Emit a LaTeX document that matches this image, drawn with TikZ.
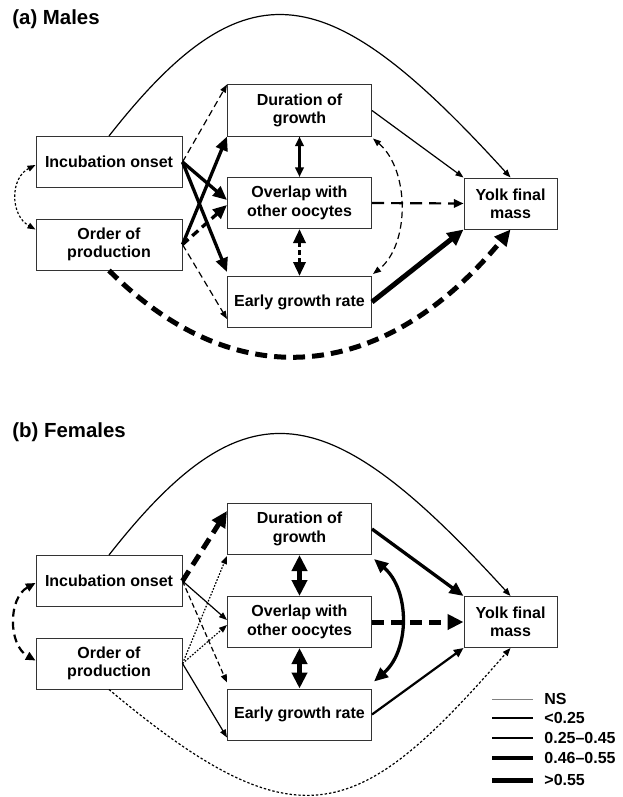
\documentclass[tikz,border=0pt]{standalone}
\usepackage{fontspec}
\setmainfont{Liberation Sans}
\usepackage{tikz}
\usetikzlibrary{calc,arrows.meta}

\begin{document}
\begin{tikzpicture}[
    x=0.5pt, y=-0.5pt,
    box/.style={rectangle, draw=black!80, line width=0.5pt, minimum height=25.5pt,
                inner sep=0pt, align=center, font=\fontsize{8}{9.2}\selectfont\bfseries},
    side/.style={box, minimum width=73pt},
    mid/.style={box, minimum width=72pt},
    yolk/.style={box, minimum width=46.5pt},
    panel_title/.style={anchor=base west, inner sep=0pt, font=\fontsize{10.2}{12}\selectfont\bfseries},
    legend_font/.style={anchor=west, inner sep=0pt, font=\fontsize{8}{9.2}\selectfont\bfseries},
    ns/.style={line width=0.5pt, color=black!50},
    wa/.style={line width=0.6pt, >={Triangle[length=4pt,width=3pt]}},
    wb/.style={line width=1.1pt, >={Triangle[length=4.8pt,width=4.2pt]}},
    wc/.style={line width=1.65pt, >={Triangle[length=7pt,width=6pt]}},
    wd/.style={line width=2.5pt, >={Triangle[length=8pt,width=7.5pt]}},
    dsh_thin/.style={dash pattern=on 3.3pt off 2pt},
    dsh_long/.style={dash pattern=on 6pt off 3.5pt},
    dsh_mid/.style={dash pattern=on 4pt off 2.5pt},
    dsh_short/.style={dash pattern=on 2.5pt off 1.5pt},
    dsh_fine/.style={dash pattern=on 1.2pt off 1pt},
    dot_fine/.style={dash pattern=on 0.8pt off 0.8pt}
  ]
    \useasboundingbox (0,0) rectangle (622,797);

    % (a) Males
    \node[panel_title] (ttla) at (12,25) {(a) Males};
    \node[side] (inca)  at (109,162)   {Incubation onset};
    \node[side] (orda)  at (109,244.5) {Order of\\production};
    \node[mid]  (dura)  at (299.5,110.5) {Duration of\\growth};
    \node[mid]  (ovla)  at (299.5,203) {Overlap with\\other oocytes};
    \node[mid]  (egra)  at (299.5,302) {Early growth rate};
    \node[yolk] (yolka) at (510.5,203.5) {Yolk final\\mass};

    \draw[wa,->] (inca.north) .. controls (247,-40) and (329,-22) .. (yolka.north);
    \draw[wd,dsh_long,->] (orda.south) .. controls (239,400) and (386,380) .. (yolka.south);
    \draw[wa,dsh_fine,<->] ($(inca.west)+(0,3)$) .. controls (10,178) and (10,215) .. ($(orda.west)+(0,-15)$);

    \draw[wa,dsh_thin,->] (inca.east) -- (dura.north west);
    \draw[wc,->] (inca.east) -- ($(ovla.west)+(0,-3)$);
    \draw[wc,->] (inca.east) -- ($(egra.north west)+(0,-4)$);
    \draw[wc,->] (orda.east) -- (dura.south west);
    \draw[wc,dsh_mid,->] (orda.east) -- ($(ovla.west)+(0,2)$);
    \draw[wa,dsh_thin,->] (orda.east) -- ($(egra.south west)+(0,-9)$);

    \draw[wb,<->] (dura.south) -- (ovla.north);
    \draw[wc,dsh_short,<->] (ovla.south) -- (egra.north);
    \draw[wa,->] (dura.east) -- (yolka.north west);
    \draw[wa,dsh_thin,<->] ($(dura.south east)+(1,2)$) .. controls (410,170) and (410,245) .. ($(egra.north east)+(1,-2)$);
    \draw[wb,dsh_long,->] (ovla.east) -- (yolka.west);
    \draw[wd,->] (egra.east) -- (yolka.south west);

    % (b) Females
    \node[panel_title] (ttlb) at (12,437) {(b) Females};
    \node[side] (incb)  at (109,581)   {Incubation onset};
    \node[side] (ordb)  at (109,663.5) {Order of\\production};
    \node[mid]  (durb)  at (299.5,529) {Duration of\\growth};
    \node[mid]  (ovlb)  at (299.5,622) {Overlap with\\other oocytes};
    \node[mid]  (egrb)  at (299.5,714.5) {Early growth rate};
    \node[yolk] (yolkb) at (510.5,622) {Yolk final\\mass};

    \draw[wa,->] (incb.north) .. controls (247,379) and (329,397) .. (yolkb.north);
    \draw[wa,dsh_fine,->] (ordb.south) .. controls (300,850) and (360,820) .. (yolkb.south);
    \draw[wb,dsh_mid,<->] ($(incb.west)+(0,2)$) .. controls (8,598) and (8,645) .. ($(ordb.west)+(0,-3)$);

    \draw[wd,dsh_long,->] (incb.east) -- ($(durb.north west)+(0,8)$);
    \draw[wa,->] (incb.east) -- ($(ovlb.west)+(0,-2)$);
    \draw[wa,dsh_short,->] (incb.east) -- ($(egrb.north west)+(0,-6)$);
    \draw[wa,dot_fine,->] (ordb.east) -- ($(durb.south west)+(0,1)$);
    \draw[wa,dot_fine,->] (ordb.east) -- ($(ovlb.west)+(0,3)$);
    \draw[wa,->] (ordb.east) -- ($(egrb.south west)+(0,-3)$);

    \draw[wd,<->] (durb.south) -- (ovlb.north);
    \draw[wd,<->] (ovlb.south) -- (egrb.north);
    \draw[wc,->] (durb.east) -- (yolkb.north west);
    \draw[wc,<->] ($(durb.south east)+(2,4)$) .. controls (410,590) and (410,650) .. ($(egrb.north east)+(2,-7)$);
    \draw[wd,dsh_long,->] (ovlb.east) -- (yolkb.west);
    \draw[wb,->] (egrb.east) -- (yolkb.south west);

    % legend
    \node[legend_font] (lgns) at (544,699) {NS};
    \node[legend_font] (lga)  at (544,718) {<0.25};
    \node[legend_font] (lgb)  at (544,738) {0.25--0.45};
    \node[legend_font] (lgc)  at (544,758) {0.46--0.55};
    \node[legend_font] (lgd)  at (544,780) {>0.55};
    \draw[ns] (492,699) -- (533,699);
    \draw[wa] (492,718) -- (533,718);
    \draw[wb] (492,738) -- (533,738);
    \draw[wc] (492,758) -- (533,758);
    \draw[wd] (492,780) -- (533,780);
  \end{tikzpicture}
\end{document}
